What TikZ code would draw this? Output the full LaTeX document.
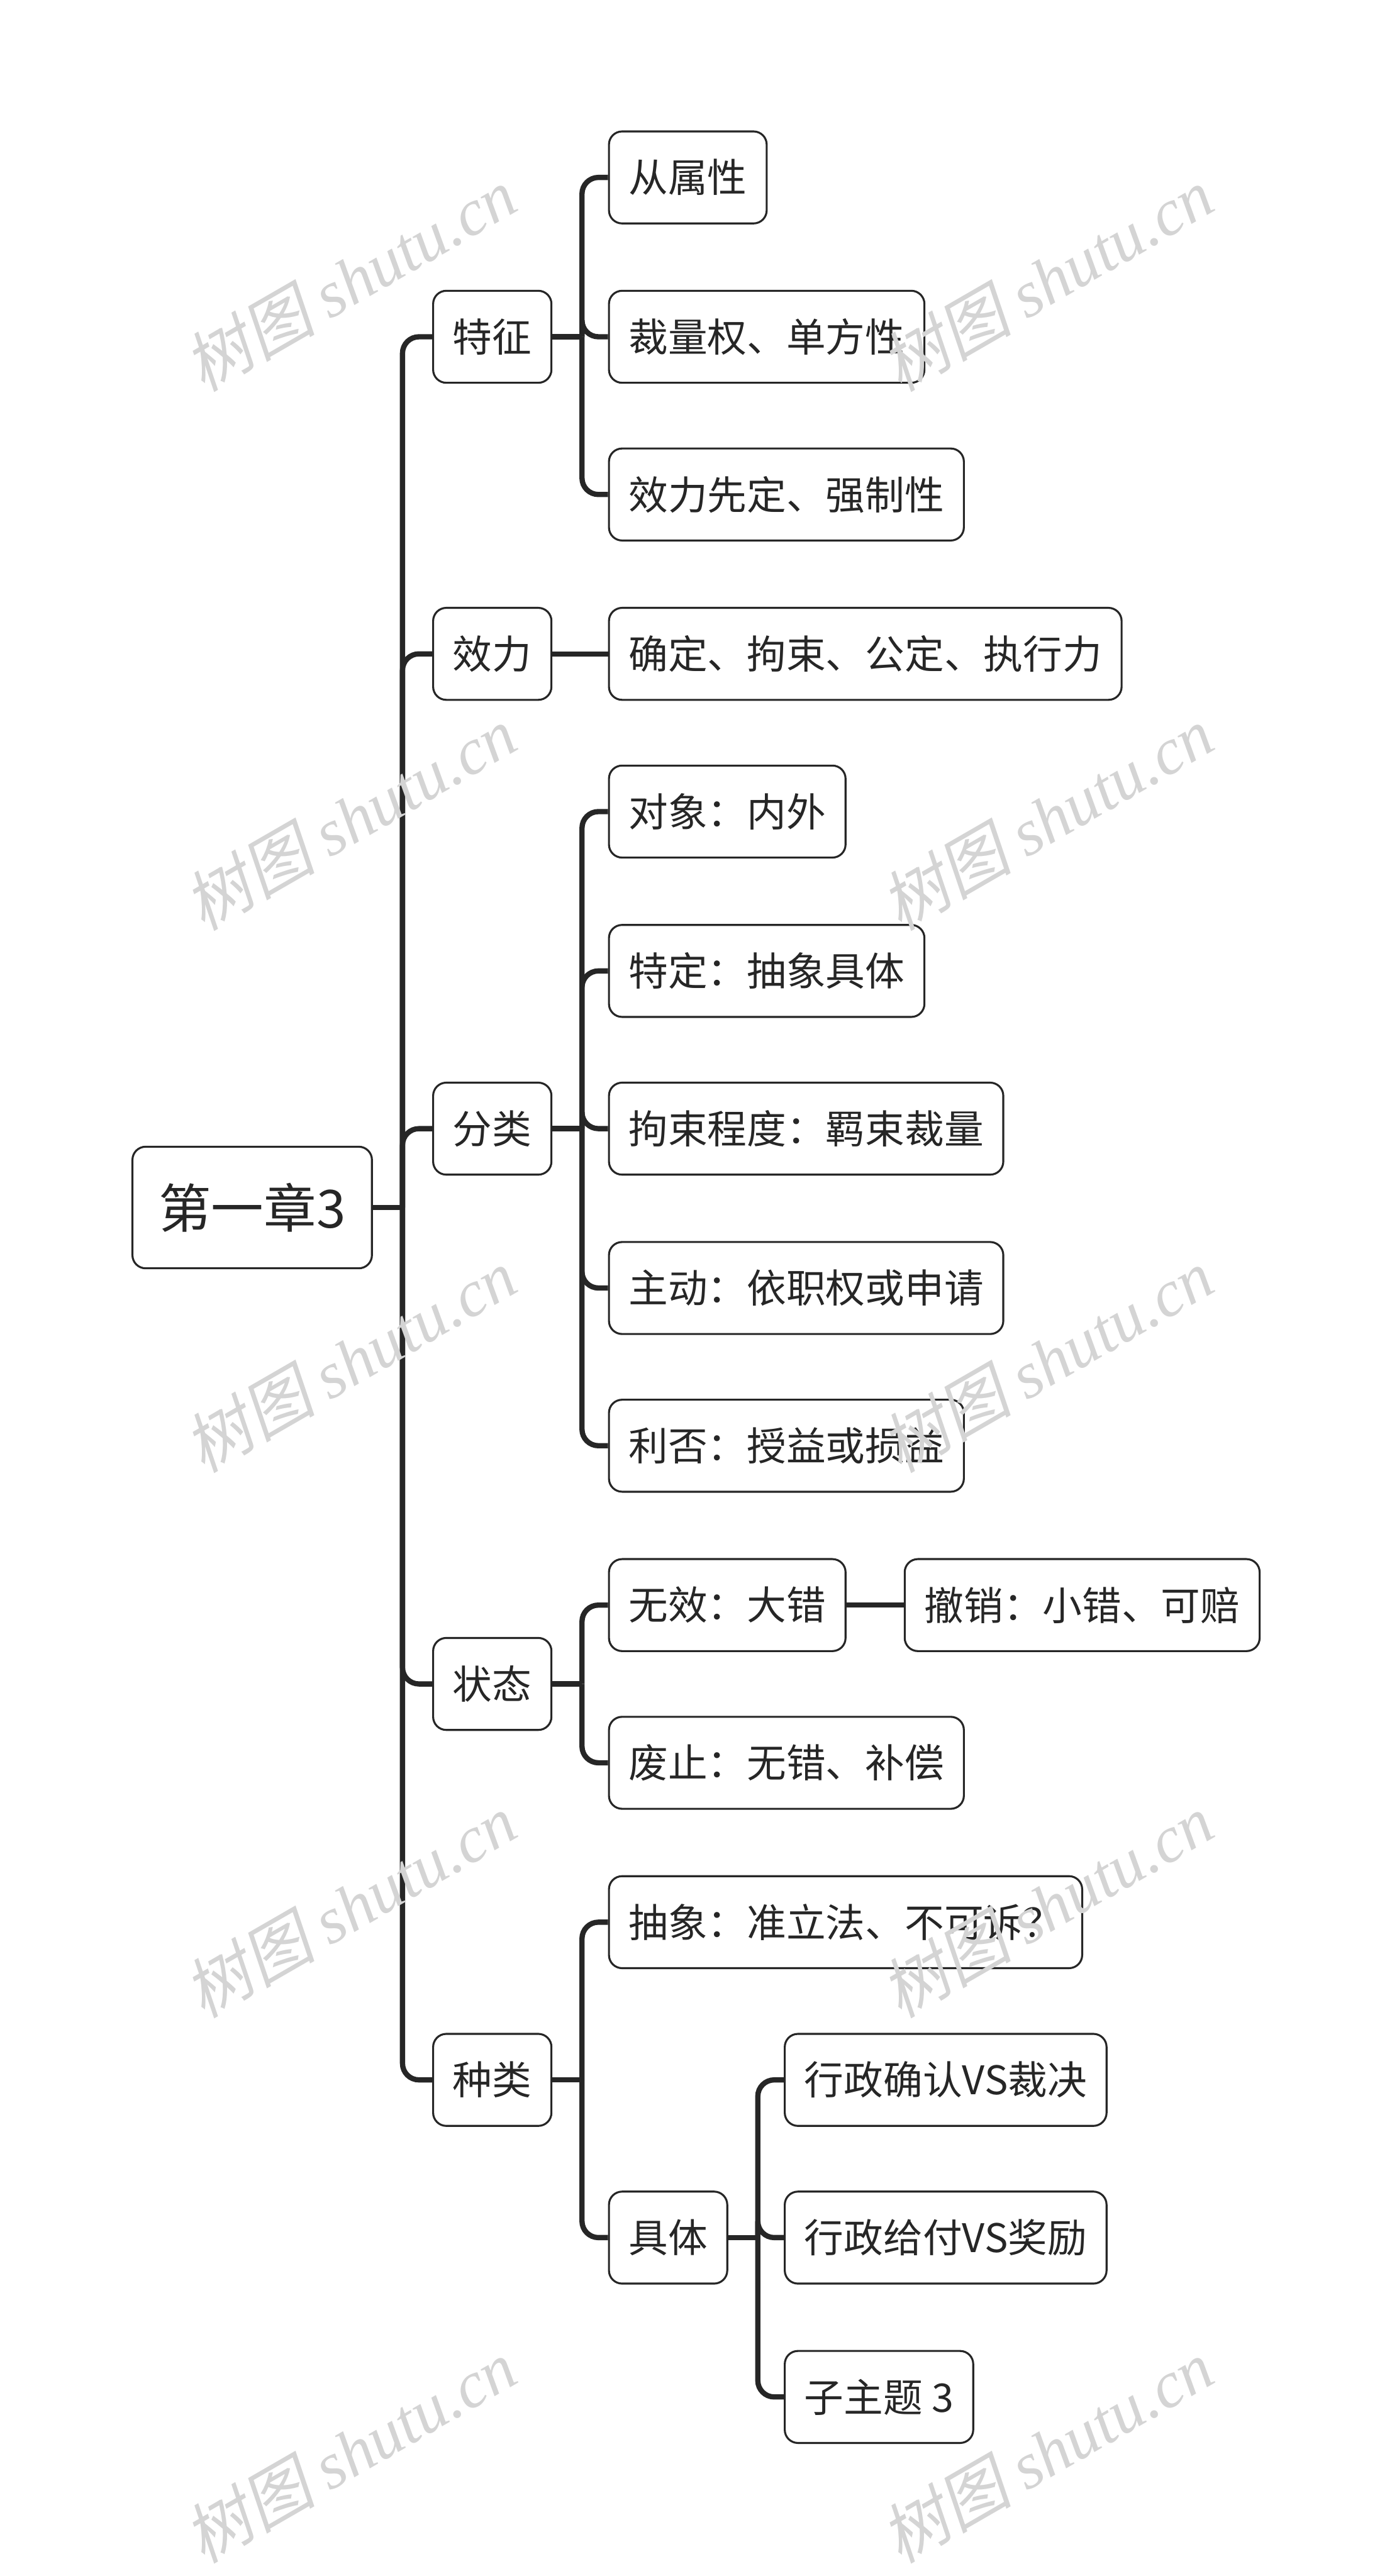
\documentclass[tikz,border=0pt]{standalone}
\usepackage{fontspec}
\setmainfont{Noto Sans CJK SC}
\newfontfamily\wmcjk[FakeSlant=0.2]{Noto Sans CJK SC}
\newfontfamily\wmlatin{Liberation Serif}
\definecolor{ink}{HTML}{262626}
\definecolor{wmgray}{HTML}{D4D4D4}

\begin{document}
\begin{tikzpicture}[
    x=1pt, y=-1pt,
    topic/.style={draw=ink, line width=1.2pt, rounded corners=8pt, fill=white,
        text=ink, font=\fontsize{24}{28}\selectfont,
        minimum height=56pt, inner xsep=12pt, anchor=west},
    roottopic/.style={topic, font=\fontsize{32}{38}\selectfont,
        minimum height=74pt, inner xsep=16pt},
    link/.style={draw=ink, line width=3.2pt, rounded corners=10pt},
    wmark/.style={text=wmgray, rotate=30, font=\fontsize{40}{44}\selectfont}
    ]
    \useasboundingbox (0,0) rectangle (847,1568);

    % root and main branches
    \node[roottopic] (root) at (80,735) {第一章3};
    \node[topic] (tezheng) at (263,205) {特征};
    \node[topic] (xiaoli) at (263,398) {效力};
    \node[topic] (fenlei) at (263,687) {分类};
    \node[topic] (zhuangtai) at (263,1025) {状态};
    \node[topic] (zhonglei) at (263,1266) {种类};

    % leaves
    \node[topic] (congshu) at (370,108) {从属性};
    \node[topic] (cailiang) at (370,205) {裁量权、单方性};
    \node[topic] (xianding) at (370,301) {效力先定、强制性};
    \node[topic] (queding) at (370,398) {确定、拘束、公定、执行力};
    \node[topic] (duixiang) at (370,494) {对象：内外};
    \node[topic] (teding) at (370,591) {特定：抽象具体};
    \node[topic] (jushu) at (370,687) {拘束程度：羁束裁量};
    \node[topic] (zhudong) at (370,784) {主动：依职权或申请};
    \node[topic] (lifou) at (370,880) {利否：授益或损益};
    \node[topic] (wuxiao) at (370,977) {无效：大错};
    \node[topic] (chexiao) at (550,977) {撤销：小错、可赔};
    \node[topic] (feizhi) at (370,1073) {废止：无错、补偿};
    \node[topic] (chouxiang) at (370,1170) {抽象：准立法、不可诉？};
    \node[topic] (juti) at (370,1362) {具体};
    \node[topic] (queren) at (477,1266) {行政确认VS裁决};
    \node[topic] (geifu) at (477,1362) {行政给付VS奖励};
    \node[topic] (zizhuti) at (477,1459) {子主题 3};

    % connectors
    \draw[link] (root.east) -- ++(18,0) coordinate (j-root);
    \draw[link] (j-root) |- (tezheng.west);
    \draw[link] (j-root) |- (xiaoli.west);
    \draw[link] (j-root) |- (fenlei.west);
    \draw[link] (j-root) |- (zhuangtai.west);
    \draw[link] (j-root) |- (zhonglei.west);

    \draw[link] (tezheng.east) -- ++(18,0) coordinate (j-tz);
    \draw[link] (j-tz) |- (congshu.west);
    \draw[link] (j-tz) |- (cailiang.west);
    \draw[link] (j-tz) |- (xianding.west);

    \draw[link] (xiaoli.east) -- (queding.west);

    \draw[link] (fenlei.east) -- ++(18,0) coordinate (j-fl);
    \draw[link] (j-fl) |- (duixiang.west);
    \draw[link] (j-fl) |- (teding.west);
    \draw[link] (j-fl) |- (jushu.west);
    \draw[link] (j-fl) |- (zhudong.west);
    \draw[link] (j-fl) |- (lifou.west);

    \draw[link] (zhuangtai.east) -- ++(18,0) coordinate (j-zt);
    \draw[link] (j-zt) |- (wuxiao.west);
    \draw[link] (j-zt) |- (feizhi.west);
    \draw[link] (wuxiao.east) -- (chexiao.west);

    \draw[link] (zhonglei.east) -- ++(18,0) coordinate (j-zl);
    \draw[link] (j-zl) |- (chouxiang.west);
    \draw[link] (j-zl) |- (juti.west);

    \draw[link] (juti.east) -- ++(18,0) coordinate (j-jt);
    \draw[link] (j-jt) |- (queren.west);
    \draw[link] (j-jt) |- (geifu.west);
    \draw[link] (j-jt) |- (zizhuti.west);

    % watermarks
    \node[wmark] (wm1) at (213,170) {\wmcjk 树图 \wmlatin\itshape shutu.cn};
    \node[wmark] (wm2) at (637,170) {\wmcjk 树图 \wmlatin\itshape shutu.cn};
    \node[wmark] (wm3) at (213,498) {\wmcjk 树图 \wmlatin\itshape shutu.cn};
    \node[wmark] (wm4) at (637,498) {\wmcjk 树图 \wmlatin\itshape shutu.cn};
    \node[wmark] (wm5) at (213,828) {\wmcjk 树图 \wmlatin\itshape shutu.cn};
    \node[wmark] (wm6) at (637,828) {\wmcjk 树图 \wmlatin\itshape shutu.cn};
    \node[wmark] (wm7) at (213,1160) {\wmcjk 树图 \wmlatin\itshape shutu.cn};
    \node[wmark] (wm8) at (637,1160) {\wmcjk 树图 \wmlatin\itshape shutu.cn};
    \node[wmark] (wm9) at (213,1492) {\wmcjk 树图 \wmlatin\itshape shutu.cn};
    \node[wmark] (wm10) at (637,1492) {\wmcjk 树图 \wmlatin\itshape shutu.cn};

\end{tikzpicture}
\end{document}
